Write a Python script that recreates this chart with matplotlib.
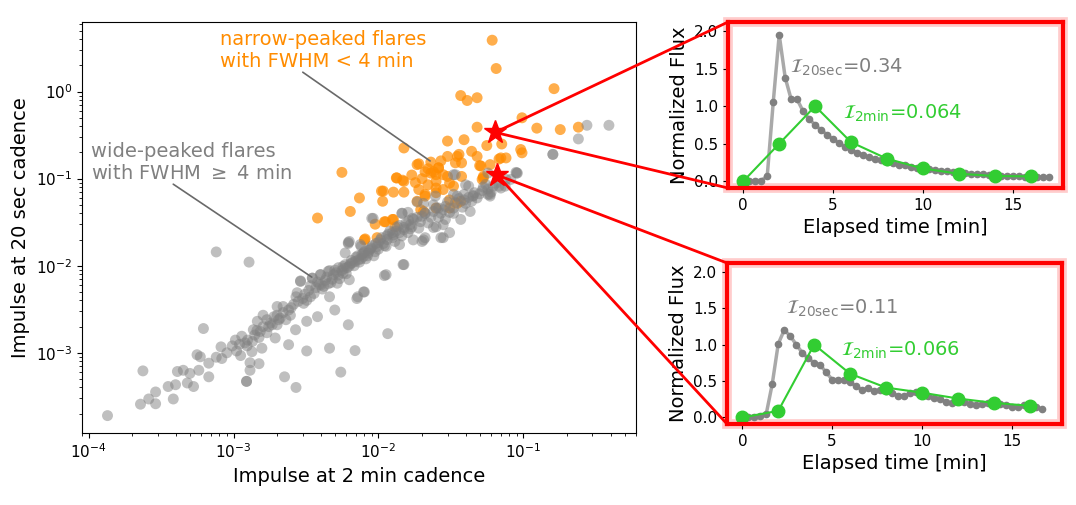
import numpy as np
import matplotlib
matplotlib.use('Agg')
import matplotlib.pyplot as plt
from matplotlib.patches import ConnectionPatch, Rectangle

# impulse of each flare: (2 min cadence, 20 sec cadence)
wide_flares = np.array([
    (1.35e-4, 1.9e-4), (2.28e-4, 2.57e-4), (2.6e-4, 2.95e-4), (2.9e-4, 2.6e-4),
    (2.9e-4, 3.55e-4), (2.37e-4, 6.2e-4), (3.84e-4, 2.95e-4), (3.54e-4, 4.1e-4),
    (3.98e-4, 4.3e-4), (4.1e-4, 6.1e-4), (4.5e-4, 6.3e-4), (5.0e-4, 5.8e-4),
    (4.8e-4, 4.5e-4), (5.3e-4, 4.1e-4), (5.76e-4, 6.3e-4), (5.6e-4, 9.5e-4),
    (5.9e-4, 9.0e-4), (6.75e-4, 5.3e-4), (6.75e-4, 7.6e-4), (6.2e-4, 1.9e-3),
    (7.6e-4, 1.44e-2), (1.28e-3, 1.1e-2), (7.6e-4, 8.9e-4), (8.2e-4, 1.17e-3),
    (8.3e-4, 8.6e-4), (9.8e-4, 1.2e-3), (1.03e-3, 1.4e-3), (1.14e-3, 1.55e-3),
    (1.12e-3, 9.3e-4), (1.23e-3, 4.7e-4), (1.23e-3, 4.7e-4), (1.3e-3, 6.3e-4),
    (1.3e-3, 7.7e-4), (1.5e-3, 7.5e-4), (1.24e-3, 1.2e-3), (1.34e-3, 1.03e-3),
    (1.57e-3, 1.13e-3), (1.37e-3, 1.84e-3), (1.53e-3, 1.76e-3), (1.7e-3, 1.7e-3),
    (1.94e-3, 1.48e-3), (1.46e-3, 2.3e-3), (1.6e-3, 2.7e-3), (1.85e-3, 2.1e-3),
    (2.05e-3, 2.4e-3), (2.0e-3, 3.4e-3), (2.2e-3, 3.4e-3), (2.47e-3, 2.7e-3),
    (2.68e-3, 1.84e-3), (2.4e-3, 1.24e-3), (2.25e-3, 5.3e-4), (2.7e-3, 4.0e-4),
    (3.2e-3, 1.05e-3), (3.2e-3, 2.3e-3), (2.75e-3, 4.9e-3), (2.9e-3, 6.6e-3),
    (3.5e-3, 7.2e-3), (3.05e-3, 3.7e-3), (3.4e-3, 4.4e-3), (3.8e-3, 2.6e-3),
    (3.97e-3, 7.9e-3), (4.5e-3, 8.6e-3), (4.2e-3, 5.8e-3), (4.6e-3, 4.4e-3),
    (5.0e-3, 3.1e-3), (4.6e-3, 1.13e-3), (5.5e-3, 6.0e-4), (6.2e-3, 2.1e-3),
    (6.9e-3, 1.06e-3), (7.1e-3, 4.2e-3), (7.9e-3, 5.0e-3), (5.7e-3, 9.8e-3),
    (6.3e-3, 6.9e-3), (5.2e-3, 6.3e-3), (1.1e-2, 7.7e-3), (1.16e-2, 1.66e-3),
    (7.9e-3, 1.4e-2), (6.2e-3, 1.8e-2), (1.13e-2, 7.9e-3), (1.48e-2, 1.03e-2),
    (2.0e-2, 1.9e-2), (7.2e-3, 4.4e-3), (8.0e-3, 5.0e-3),
    # band between 1e-3 and 1e-2
    (1.1e-3, 1.25e-3), (1.2e-3, 1.3e-3), (1.25e-3, 1.4e-3), (1.4e-3, 1.6e-3),
    (1.45e-3, 1.8e-3), (1.6e-3, 2.0e-3), (1.7e-3, 2.4e-3), (1.8e-3, 2.2e-3),
    (1.9e-3, 2.6e-3), (2.1e-3, 2.5e-3), (2.2e-3, 2.9e-3), (2.4e-3, 3.1e-3),
    (2.6e-3, 3.6e-3), (2.8e-3, 3.9e-3), (3.0e-3, 4.2e-3), (3.2e-3, 4.0e-3),
    (3.3e-3, 5.2e-3), (3.6e-3, 4.8e-3), (3.7e-3, 5.6e-3), (3.9e-3, 6.1e-3),
    (4.1e-3, 5.4e-3), (4.3e-3, 6.8e-3), (4.4e-3, 7.4e-3), (4.7e-3, 6.4e-3),
    (4.9e-3, 7.9e-3), (5.1e-3, 8.3e-3), (5.4e-3, 7.1e-3), (5.6e-3, 8.8e-3),
    (5.8e-3, 9.3e-3), (6.0e-3, 8.1e-3), (6.3e-3, 9.9e-3), (6.5e-3, 1.15e-2),
    (6.8e-3, 1.0e-2), (7.0e-3, 1.25e-2), (7.4e-3, 1.1e-2), (7.7e-3, 1.35e-2),
    (8.2e-3, 1.2e-2), (8.5e-3, 1.4e-2), (8.9e-3, 1.6e-2), (9.3e-3, 1.3e-2),
    (9.6e-3, 1.8e-2), (1.0e-2, 1.55e-2), (1.05e-2, 2.1e-2), (1.1e-2, 1.7e-2),
    (1.15e-2, 2.0e-2), (1.2e-2, 2.5e-2), (1.3e-2, 1.9e-2), (1.35e-2, 2.8e-2),
    (1.45e-2, 2.2e-2), (1.55e-2, 3.1e-2), (1.6e-2, 2.4e-2), (1.75e-2, 3.4e-2),
    (1.9e-2, 2.7e-2), (2.0e-2, 3.7e-2), (2.2e-2, 3.1e-2), (2.4e-2, 4.2e-2),
    (2.6e-2, 3.6e-2), (2.9e-2, 4.8e-2), (3.1e-2, 4.1e-2), (3.4e-2, 5.3e-2),
    (3.8e-2, 4.7e-2), (4.2e-2, 6.1e-2), (4.6e-2, 6.9e-2), (5.2e-2, 7.3e-2),
    (5.5e-2, 8.6e-2), (6.0e-2, 7.0e-2),
    (2.9e-3, 6.7e-3), (3.5e-3, 7.2e-3), (4.0e-3, 7.9e-3), (4.6e-3, 8.8e-3),
    (5.3e-3, 9.5e-3), (5.9e-3, 1.03e-2), (6.6e-3, 1.08e-2), (7.3e-3, 1.17e-2),
    (7.9e-3, 1.28e-2), (8.6e-3, 1.5e-2), (9.8e-3, 1.66e-2), (1.03e-2, 1.98e-2),
    (1.14e-2, 2.2e-2), (1.27e-2, 2.26e-2), (1.4e-2, 2.4e-2), (1.5e-2, 2.6e-2),
    (1.66e-2, 2.96e-2), (1.74e-2, 1.98e-2), (2.05e-2, 1.98e-2), (2.8e-2, 2.1e-2),
    (1.5e-2, 1.03e-2), (6.2e-3, 1.85e-2), (5.9e-3, 1.4e-2), (7.5e-3, 1.75e-2),
    (9.2e-3, 3.5e-2), (1.45e-2, 4.0e-2), (1.6e-2, 4.1e-2), (2.05e-2, 5.2e-2),
    (2.4e-2, 5.0e-2), (2.8e-2, 4.4e-2), (2.5e-2, 2.8e-2), (2.8e-2, 2.96e-2),
    (3.3e-2, 0.111), (3.5e-2, 6.3e-2), (3.9e-2, 6.6e-2), (4.4e-2, 5.5e-2),
    (4.3e-2, 4.2e-2), (4.8e-2, 6.0e-2), (5.9e-2, 6.3e-2), (6.2e-2, 8.2e-2),
    (7.0e-2, 7.8e-2), (6.5e-2, 8.9e-2), (8.2e-2, 9.8e-2), (9.1e-2, 0.116),
    (4.0e-2, 8.5e-2),
    # denser core
    (2.5e-3, 3.3e-3), (2.7e-3, 4.4e-3), (3.1e-3, 4.7e-3), (3.4e-3, 5.9e-3),
    (3.8e-3, 6.5e-3), (4.0e-3, 6.0e-3), (4.5e-3, 6.2e-3), (4.8e-3, 7.0e-3),
    (5.0e-3, 8.9e-3), (5.3e-3, 7.8e-3), (5.7e-3, 8.2e-3), (6.1e-3, 9.5e-3),
    (6.4e-3, 1.05e-2), (6.9e-3, 1.12e-2), (7.2e-3, 1.3e-2), (7.6e-3, 1.2e-2),
    (8.0e-3, 1.45e-2), (8.4e-3, 1.3e-2), (8.8e-3, 1.55e-2), (9.1e-3, 1.7e-2),
    (9.5e-3, 1.45e-2), (1.0e-2, 1.85e-2), (1.08e-2, 1.8e-2), (1.17e-2, 2.3e-2),
    (1.25e-2, 2.1e-2), (1.32e-2, 2.5e-2), (1.4e-2, 2.9e-2), (1.5e-2, 2.75e-2),
    (1.62e-2, 3.3e-2), (1.7e-2, 2.8e-2), (1.85e-2, 3.6e-2), (1.95e-2, 3.2e-2),
    (2.1e-2, 4.0e-2), (2.3e-2, 3.6e-2), (2.5e-2, 4.6e-2), (2.7e-2, 4.0e-2),
    (3.0e-2, 5.4e-2), (3.3e-2, 4.6e-2), (3.6e-2, 5.9e-2), (4.0e-2, 5.2e-2),
    (4.5e-2, 6.4e-2), (5.0e-2, 6.7e-2), (5.3e-2, 8.0e-2), (5.7e-2, 7.6e-2),
    (2.0e-3, 2.7e-3), (2.3e-3, 2.4e-3), (1.75e-3, 2.0e-3), (1.5e-3, 1.5e-3),
    (1.35e-3, 1.35e-3), (1.05e-3, 1.05e-3), (9.0e-4, 1.0e-3), (2.0e-3, 2.1e-3),
    # upper end
    (0.275, 0.41), (0.39, 0.41), (0.24, 0.286), (0.16, 0.19), (0.16, 0.19),
    (0.09, 0.116), (0.076, 0.098), (0.068, 0.082), (0.059, 0.066), (0.034, 0.111),
    (0.042, 0.082), (0.0185, 0.054), (0.0247, 0.063), (0.033, 0.066), (0.039, 0.057),
    (0.045, 0.063), (0.057, 0.066), (0.057, 0.116), (0.089, 0.118), (0.075, 0.082),
    (0.0172, 0.035), (0.021, 0.04), (0.026, 0.046), (0.029, 0.034), (0.033, 0.04),
    (0.024, 0.0275), (0.031, 0.024), (0.037, 0.034), (9.0e-3, 0.035), (0.0146, 0.04),
    (0.0125, 0.024), (0.0166, 0.0265), (6.3e-3, 0.019), (7.6e-3, 0.0167),
    (0.0113, 0.0167), (0.014, 0.0175), (0.021, 0.021), (0.027, 0.021),
])

narrow_flares = np.array([
    (0.061, 3.89), (0.065, 1.84), (0.163, 1.08), (0.037, 0.90), (0.041, 0.79),
    (0.048, 0.85), (0.098, 0.50), (0.048, 0.39), (0.124, 0.38), (0.18, 0.366),
    (0.24, 0.39), (0.030, 0.27), (0.039, 0.28), (0.056, 0.24), (0.071, 0.25),
    (0.096, 0.216), (0.098, 0.198), (0.015, 0.225), (0.019, 0.148), (0.030, 0.18),
    (0.036, 0.19), (0.044, 0.206), (0.048, 0.18), (0.050, 0.141), (0.059, 0.145),
    (0.068, 0.168), (0.076, 0.173), (0.034, 0.152), (0.0375, 0.152), (0.026, 0.133),
    (0.025, 0.111), (0.028, 0.111), (0.0134, 0.102), (0.015, 0.093), (0.0127, 0.07),
    (0.015, 0.07), (0.0105, 0.072), (0.021, 0.066), (0.025, 0.078), (0.031, 0.089),
    (0.0375, 0.106), (0.053, 0.106), (0.052, 0.098),
    (3.8e-3, 0.0353), (5.6e-3, 0.118), (7.4e-3, 0.06), (6.4e-3, 0.042),
    (0.0108, 0.072), (0.0133, 0.102), (0.0147, 0.096), (0.0107, 0.055),
    (0.0185, 0.145), (8.1e-3, 0.0203), (9.8e-3, 0.021), (0.011, 0.032),
    (0.0127, 0.034), (0.013, 0.028), (0.021, 0.063), (0.0205, 0.042),
    (0.025, 0.069), (0.025, 0.093), (0.023, 0.116), (0.026, 0.133), (0.030, 0.106),
    (0.028, 0.075), (0.033, 0.082), (0.031, 0.057), (0.037, 0.055), (0.035, 0.18),
    (0.051, 0.14), (0.053, 0.102), (0.070, 0.173), (9.5e-3, 0.03), (0.0112, 0.032),
    (0.0125, 0.034), (8.0e-3, 0.0198), (0.0185, 0.055), (0.0196, 0.044),
    (0.025, 0.046), (0.031, 0.046), (0.035, 0.052), (0.022, 0.085), (0.024, 0.12),
    (0.018, 0.09), (0.020, 0.10), (0.022, 0.13), (0.019, 0.075), (0.023, 0.155),
    (0.027, 0.16), (0.017, 0.11), (0.021, 0.12),
])

# the two flares shown in the panels
star_x = [0.064, 0.066]
star_y = [0.34, 0.11]
impulse_20sec = ['0.34', '0.11']
impulse_2min = ['0.064', '0.066']

flux_20sec_a = [0.0, 0.0, 0.01, 0.01, 0.07, 1.05, 1.95, 1.38, 1.09, 1.09, 0.93,
                0.83, 0.75, 0.68, 0.62, 0.56, 0.51, 0.46, 0.42, 0.38, 0.35, 0.32,
                0.30, 0.28, 0.26, 0.24, 0.22, 0.21, 0.19, 0.18, 0.17, 0.16, 0.15,
                0.14, 0.13, 0.12, 0.115, 0.11, 0.10, 0.095, 0.09, 0.085, 0.08,
                0.075, 0.07, 0.068, 0.065, 0.062, 0.06, 0.058, 0.055, 0.053]
flux_2min_a = [0.0, 0.5, 1.0, 0.52, 0.30, 0.17, 0.10, 0.07, 0.065]

flux_20sec_b = [0.0, 0.0, 0.01, 0.02, 0.05, 0.46, 1.01, 1.2, 1.12, 1.0, 0.89,
                0.81, 0.75, 0.72, 0.62, 0.52, 0.52, 0.51, 0.48, 0.43, 0.38, 0.40,
                0.36, 0.38, 0.36, 0.34, 0.30, 0.30, 0.33, 0.35, 0.33, 0.30, 0.27,
                0.26, 0.21, 0.20, 0.22, 0.21, 0.19, 0.17, 0.18, 0.20, 0.20, 0.19,
                0.17, 0.14, 0.14, 0.17, 0.17, 0.15, 0.11]
flux_2min_b = [0.0, 0.09, 1.0, 0.6, 0.41, 0.34, 0.26, 0.20, 0.16]

time_2min = [0, 2, 4, 6, 8, 10, 12, 14, 16]


fig = plt.figure(figsize=(10.76, 5.05), dpi=100)
ax = fig.add_axes([0.0762, 0.1426, 0.5149, 0.8139])

ax.scatter(narrow_flares[:, 0], narrow_flares[:, 1], s=62, color='darkorange',
           alpha=0.7, edgecolors='none')
ax.scatter(wide_flares[:, 0], wide_flares[:, 1], s=62, color='gray',
           alpha=0.5, edgecolors='none')
ax.plot(star_x, star_y, '*', color='red', ms=17, zorder=5)
ax.set_xscale('log')
ax.set_yscale('log')
ax.set_xlim(9e-5, 0.6)
ax.set_ylim(1.2e-4, 6.3)
ax.set_xlabel('Impulse at 2 min cadence', fontsize=14)
ax.set_ylabel('Impulse at 20 sec cadence', fontsize=14)
ax.tick_params(labelsize=11)

ax.text(8.1e-4, 3.0, 'narrow-peaked flares\nwith FWHM < 4 min', color='darkorange',
        fontsize=14, ha='left', va='center')
ax.annotate('', xy=(0.0236, 0.153), xytext=(2.9e-3, 1.74),
            arrowprops=dict(arrowstyle='-', color='dimgray', lw=1.2))
ax.text(1.04e-4, 0.155, 'wide-peaked flares\nwith FWHM $\\geq$ 4 min', color='gray',
        fontsize=14, ha='left', va='center')
ax.annotate('', xy=(3.6e-3, 7.1e-3), xytext=(3.7e-4, 0.09),
            arrowprops=dict(arrowstyle='-', color='dimgray', lw=1.2))

ax1 = fig.add_axes([0.6766, 0.6277, 0.3113, 0.3287])
ax2 = fig.add_axes([0.6757, 0.1604, 0.3113, 0.3188])

panels = [(ax1, flux_20sec_a, flux_2min_a, (2.6, 1.52), (5.55, 0.9)),
          (ax2, flux_20sec_b, flux_2min_b, (2.45, 1.5), (5.5, 0.92))]
for i, (axi, f20, f2, pos20, pos2) in enumerate(panels):
    t20 = np.arange(len(f20)) / 3.
    axi.plot(t20, f20, color='darkgray', lw=2.5, marker='o', ms=4.5,
             mfc='gray', mec='gray')
    axi.plot(time_2min, f2, color='limegreen', lw=1.5, marker='o', ms=9)
    axi.text(pos20[0], pos20[1], '$\\mathcal{I}_{\\rm 20sec}$=' + impulse_20sec[i],
             color='gray', fontsize=14, va='center')
    axi.text(pos2[0], pos2[1], '$\\mathcal{I}_{\\rm 2min}$=' + impulse_2min[i],
             color='limegreen', fontsize=14, va='center')
    axi.set_ylim(-0.09, 2.12)
    axi.set_xlim(-0.85, 17.8)
    axi.set_yticks([0.0, 0.5, 1.0, 1.5, 2.0])
    axi.set_xticks([0, 5, 10, 15])
    axi.set_xlabel('Elapsed time [min]', fontsize=14)
    axi.set_ylabel('Normalized Flux', fontsize=14)
    axi.tick_params(labelsize=11)
    for sp in axi.spines.values():
        sp.set_color('red')
        sp.set_linewidth(3)
    axi.add_patch(Rectangle((0, 0), 1, 1, transform=axi.transAxes, fill=False,
                            ec='red', lw=7, alpha=0.2, clip_on=False))
    # lines from the star to the panel corners
    for yb in (1, 0):
        con = ConnectionPatch(xyA=(star_x[i], star_y[i]), coordsA=ax.transData,
                              xyB=(0, yb), coordsB=axi.transAxes,
                              color='red', lw=2)
        fig.add_artist(con)

plt.savefig('out.png', dpi=100)
